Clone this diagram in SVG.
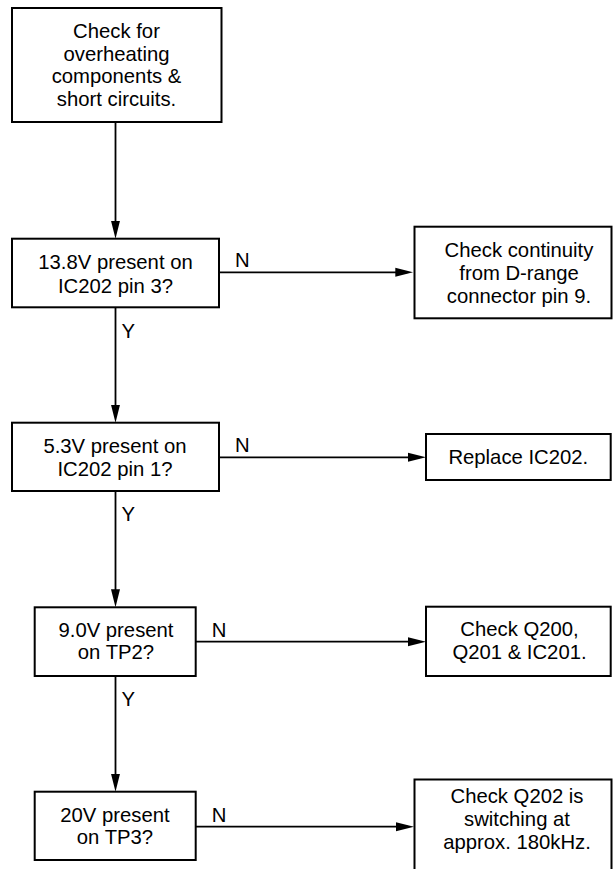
<svg xmlns="http://www.w3.org/2000/svg" width="613" height="869" viewBox="0 0 613 869">
<style>
.box{fill:#fff;stroke:#000;stroke-width:2}
.t{font-family:"Liberation Sans",Arial,sans-serif;font-size:20.3px;fill:#000;text-anchor:middle}
.l{font-family:"Liberation Sans",Arial,sans-serif;font-size:20.3px;fill:#000}
.c{stroke:#000;stroke-width:1.8;fill:none}
</style>
<defs>
<marker id="ah" viewBox="0 0 18 10" markerWidth="18" markerHeight="10" refX="12" refY="5" orient="auto" markerUnits="userSpaceOnUse">
<path d="M0,0.5 L18,5 L0,9.5 z" fill="#000"/>
</marker>
</defs>
<rect width="613" height="869" fill="#fff"/>
<g id="connectors">
<line class="c" x1="115.5" y1="122" x2="115.5" y2="232.7" marker-end="url(#ah)"/>
<line class="c" x1="219" y1="272.3" x2="407.3" y2="272.3" marker-end="url(#ah)"/>
<line class="c" x1="115.5" y1="307.3" x2="115.5" y2="416.7" marker-end="url(#ah)"/>
<line class="c" x1="219" y1="457.3" x2="420" y2="457.3" marker-end="url(#ah)"/>
<line class="c" x1="115.5" y1="491" x2="115.5" y2="601.3" marker-end="url(#ah)"/>
<line class="c" x1="195.7" y1="641.7" x2="420" y2="641.7" marker-end="url(#ah)"/>
<line class="c" x1="115.5" y1="676" x2="115.5" y2="785.7" marker-end="url(#ah)"/>
<line class="c" x1="195.7" y1="826.7" x2="408" y2="826.7" marker-end="url(#ah)"/>
<text class="l" x="235" y="267">N</text>
<text class="l" x="121.5" y="338">Y</text>
<text class="l" x="235" y="452">N</text>
<text class="l" x="121.5" y="521">Y</text>
<text class="l" x="211.7" y="636.7">N</text>
<text class="l" x="121.5" y="706">Y</text>
<text class="l" x="211.7" y="821.7">N</text>
</g>
<g id="n1">
<rect class="box" x="12" y="8" width="209.5" height="114"/>
<text class="t" x="116.5" y="37.7">Check for</text>
<text class="t" x="116.5" y="60.5">overheating</text>
<text class="t" x="116.5" y="83.3">components &amp;</text>
<text class="t" x="116.5" y="106">short circuits.</text>
</g>
<g id="n2">
<rect class="box" x="12" y="238.7" width="207" height="68.6"/>
<text class="t" x="115.5" y="269.3">13.8V present on</text>
<text class="t" x="115.5" y="292.7">IC202 pin 3?</text>
</g>
<g id="n3">
<rect class="box" x="414.5" y="226.7" width="197" height="91.6"/>
<text class="t" x="519" y="256.7">Check continuity</text>
<text class="t" x="519" y="280">from D-range</text>
<text class="t" x="519" y="303.3">connector pin 9.</text>
</g>
<g id="n4">
<rect class="box" x="12" y="422.7" width="207" height="68.3"/>
<text class="t" x="115" y="453.3">5.3V present on</text>
<text class="t" x="115" y="476">IC202 pin 1?</text>
</g>
<g id="n5">
<rect class="box" x="426" y="434" width="184.7" height="46"/>
<text class="t" x="518.3" y="464.3">Replace IC202.</text>
</g>
<g id="n6">
<rect class="box" x="34.7" y="607.3" width="161" height="68.7"/>
<text class="t" x="116" y="636.7">9.0V present</text>
<text class="t" x="116" y="659.3">on TP2?</text>
</g>
<g id="n7">
<rect class="box" x="426" y="606.7" width="184.7" height="69.3"/>
<text class="t" x="519.5" y="636">Check Q200,</text>
<text class="t" x="519.5" y="659.3">Q201 &amp; IC201.</text>
</g>
<g id="n8">
<rect class="box" x="34.7" y="791.7" width="161" height="68.3"/>
<text class="t" x="115" y="821.7">20V present</text>
<text class="t" x="115" y="844.3">on TP3?</text>
</g>
<g id="n9">
<path class="box" d="M414.5,871 L414.5,779.5 L611.5,779.5 L611.5,871"/>
<text class="t" x="517" y="802.7">Check Q202 is</text>
<text class="t" x="517" y="825.7">switching at</text>
<text class="t" x="517" y="848.7">approx. 180kHz.</text>
</g>
</svg>
